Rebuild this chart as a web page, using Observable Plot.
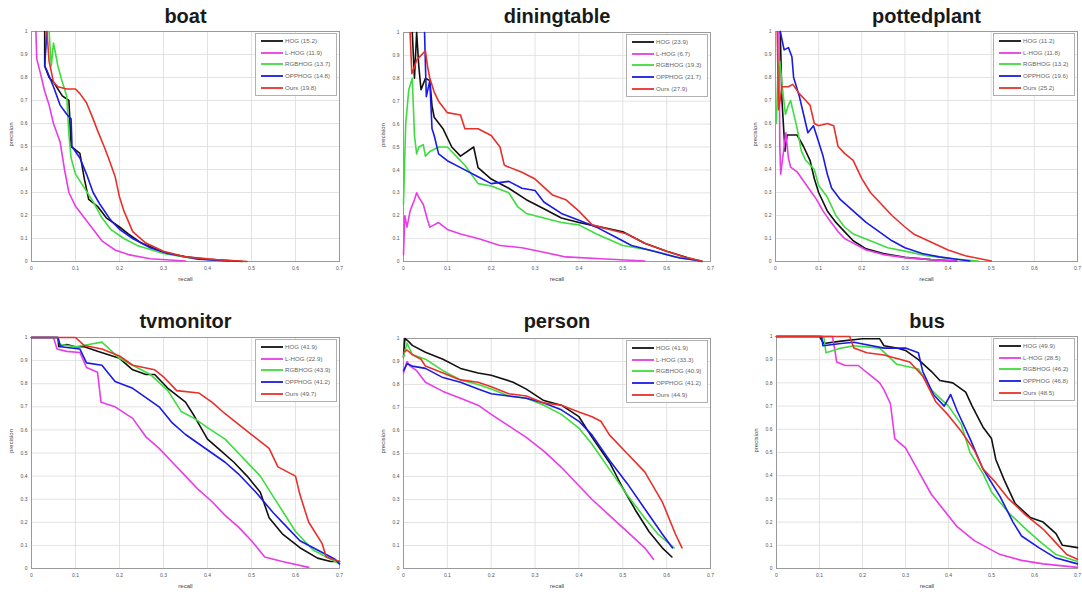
<!DOCTYPE html>
<html><head><meta charset="utf-8">
<script src="https://cdn.jsdelivr.net/npm/d3@7"></script>
<script src="https://cdn.jsdelivr.net/npm/@observablehq/plot@0.6"></script>
<style>
body{margin:0;background:#fff;overflow:hidden;font-family:"Liberation Sans",Arial,sans-serif;}
#root{position:relative;width:1082px;height:592px;overflow:hidden;background:#fff;}
.panel{position:absolute;}
.legend{position:absolute;}
</style>
</head><body><div id="root"></div>
<script>
const methods = ["HOG","L-HOG","RGBHOG","OPPHOG","Ours"];
const colors = ["#111111","#e83ce8","#3edc3e","#1a1ae6","#e8302a"];
const categories = ["boat","diningtable","pottedplant","tvmonitor","person","bus"];
const xTicks = [0,0.1,0.2,0.3,0.4,0.5,0.6,0.7];
const yTicks = [0,0.1,0.2,0.3,0.4,0.5,0.6,0.7,0.8,0.9,1];

const boatAP = [15.2,11.9,13.7,14.8,19.8];
const diningtableAP = [23.9,6.7,19.3,21.7,27.9];
const pottedplantAP = [11.2,11.8,13.2,19.6,25.2];
const tvmonitorAP = [41.9,22.9,43.9,41.2,49.7];
const personAP = [41.9,33.3,40.9,41.2,44.9];
const busAP = [49.9,28.5,46.2,46.8,48.5];

const boat = {
  "HOG":[[0.03,1],[0.03,0.85],[0.04,0.8],[0.05,0.78],[0.07,0.72],[0.085,0.7],[0.09,0.5],[0.11,0.47],[0.12,0.36],[0.13,0.27],[0.15,0.24],[0.17,0.19],[0.2,0.15],[0.22,0.12],[0.25,0.08],[0.3,0.04],[0.35,0.02],[0.4,0.01],[0.48,0.0]],
  "L-HOG":[[0.01,1],[0.012,0.88],[0.02,0.82],[0.03,0.74],[0.04,0.68],[0.05,0.6],[0.065,0.52],[0.075,0.4],[0.085,0.3],[0.1,0.24],[0.12,0.19],[0.14,0.14],[0.16,0.09],[0.19,0.05],[0.22,0.03],[0.27,0.012],[0.35,0.002]],
  "RGBHOG":[[0.04,1],[0.045,0.85],[0.05,0.95],[0.06,0.85],[0.07,0.78],[0.08,0.72],[0.085,0.55],[0.09,0.45],[0.1,0.38],[0.12,0.32],[0.14,0.26],[0.16,0.19],[0.18,0.14],[0.21,0.1],[0.24,0.07],[0.3,0.035],[0.37,0.012],[0.45,0.003]],
  "OPPHOG":[[0.035,1],[0.03,0.85],[0.035,0.83],[0.05,0.76],[0.065,0.68],[0.08,0.64],[0.09,0.62],[0.092,0.5],[0.11,0.45],[0.125,0.38],[0.14,0.3],[0.155,0.25],[0.18,0.18],[0.2,0.14],[0.23,0.1],[0.27,0.06],[0.31,0.035],[0.38,0.01],[0.45,0.002]],
  "Ours":[[0.035,1],[0.04,0.87],[0.05,0.78],[0.06,0.76],[0.08,0.75],[0.1,0.75],[0.11,0.73],[0.125,0.69],[0.14,0.62],[0.15,0.57],[0.165,0.5],[0.175,0.45],[0.19,0.37],[0.2,0.28],[0.21,0.22],[0.23,0.13],[0.26,0.08],[0.3,0.045],[0.35,0.02],[0.42,0.008],[0.49,0]]
};
const diningtable = {
  "HOG":[[0.02,1],[0.025,0.8],[0.03,1],[0.035,0.85],[0.04,0.75],[0.05,0.8],[0.06,0.79],[0.065,0.68],[0.07,0.63],[0.09,0.58],[0.11,0.5],[0.13,0.46],[0.16,0.5],[0.17,0.41],[0.2,0.36],[0.24,0.32],[0.28,0.27],[0.32,0.23],[0.36,0.19],[0.4,0.17],[0.45,0.15],[0.5,0.13],[0.55,0.08],[0.6,0.045],[0.65,0.015],[0.68,0]],
  "L-HOG":[[0,0.03],[0.003,0.2],[0.008,0.15],[0.015,0.22],[0.025,0.27],[0.03,0.3],[0.035,0.28],[0.045,0.25],[0.055,0.18],[0.06,0.15],[0.08,0.17],[0.1,0.14],[0.13,0.12],[0.17,0.1],[0.22,0.07],[0.27,0.06],[0.32,0.04],[0.37,0.02],[0.45,0.012],[0.55,0.002]],
  "RGBHOG":[[0,0.25],[0.005,0.6],[0.012,0.75],[0.02,0.8],[0.025,0.55],[0.03,0.47],[0.035,0.5],[0.045,0.51],[0.05,0.46],[0.06,0.48],[0.08,0.5],[0.1,0.5],[0.12,0.46],[0.14,0.42],[0.17,0.34],[0.2,0.33],[0.24,0.3],[0.26,0.24],[0.28,0.21],[0.32,0.19],[0.36,0.17],[0.4,0.16],[0.44,0.12],[0.5,0.07],[0.56,0.05],[0.62,0.02],[0.68,0.002]],
  "OPPHOG":[[0.048,1],[0.052,0.72],[0.06,0.79],[0.065,0.58],[0.07,0.55],[0.08,0.47],[0.1,0.44],[0.13,0.41],[0.17,0.37],[0.2,0.34],[0.24,0.35],[0.27,0.32],[0.3,0.31],[0.32,0.26],[0.36,0.21],[0.4,0.18],[0.44,0.15],[0.48,0.11],[0.52,0.07],[0.58,0.04],[0.63,0.015],[0.68,0.002]],
  "Ours":[[0.015,1],[0.019,0.82],[0.025,0.85],[0.03,0.88],[0.04,0.9],[0.05,0.92],[0.055,0.85],[0.06,0.8],[0.07,0.74],[0.08,0.7],[0.1,0.65],[0.13,0.64],[0.14,0.58],[0.17,0.58],[0.2,0.55],[0.22,0.5],[0.23,0.42],[0.27,0.39],[0.3,0.36],[0.34,0.29],[0.37,0.27],[0.4,0.22],[0.43,0.16],[0.47,0.14],[0.51,0.12],[0.55,0.08],[0.6,0.045],[0.64,0.02],[0.68,0.002]]
};
const pottedplant = {
  "HOG":[[0.011,1],[0.015,0.7],[0.022,0.48],[0.027,0.55],[0.05,0.55],[0.065,0.5],[0.08,0.44],[0.09,0.36],[0.1,0.3],[0.12,0.22],[0.14,0.17],[0.16,0.13],[0.18,0.09],[0.21,0.055],[0.25,0.035],[0.3,0.018],[0.36,0.008],[0.42,0.002]],
  "L-HOG":[[0.008,1],[0.01,0.5],[0.012,0.38],[0.02,0.5],[0.024,0.56],[0.03,0.45],[0.035,0.41],[0.05,0.39],[0.065,0.35],[0.08,0.31],[0.095,0.27],[0.11,0.22],[0.125,0.18],[0.145,0.13],[0.16,0.1],[0.18,0.08],[0.21,0.05],[0.25,0.03],[0.3,0.017],[0.36,0.008],[0.42,0.002]],
  "RGBHOG":[[0.002,0.6],[0.006,0.85],[0.01,0.87],[0.018,0.72],[0.023,0.64],[0.03,0.68],[0.035,0.7],[0.045,0.62],[0.05,0.58],[0.06,0.48],[0.07,0.44],[0.09,0.4],[0.1,0.33],[0.12,0.28],[0.14,0.2],[0.16,0.15],[0.18,0.12],[0.22,0.09],[0.26,0.06],[0.3,0.045],[0.35,0.025],[0.41,0.012],[0.47,0.002]],
  "OPPHOG":[[0.011,1],[0.02,0.92],[0.03,0.93],[0.038,0.89],[0.042,0.8],[0.055,0.72],[0.065,0.64],[0.075,0.56],[0.088,0.59],[0.1,0.52],[0.11,0.46],[0.12,0.38],[0.13,0.32],[0.15,0.27],[0.18,0.22],[0.21,0.17],[0.24,0.13],[0.27,0.09],[0.3,0.06],[0.34,0.035],[0.38,0.02],[0.42,0.01],[0.45,0.002]],
  "Ours":[[0.004,1],[0.007,0.66],[0.012,0.72],[0.015,0.76],[0.03,0.76],[0.04,0.77],[0.055,0.73],[0.07,0.7],[0.08,0.68],[0.09,0.6],[0.1,0.59],[0.12,0.6],[0.135,0.59],[0.145,0.5],[0.16,0.47],[0.18,0.44],[0.2,0.36],[0.22,0.3],[0.24,0.26],[0.27,0.2],[0.3,0.15],[0.32,0.12],[0.36,0.085],[0.4,0.05],[0.44,0.025],[0.5,0.002]]
};
const tvmonitor = {
  "HOG":[[0,1],[0.06,1],[0.062,0.96],[0.08,0.97],[0.1,0.96],[0.12,0.96],[0.15,0.94],[0.2,0.91],[0.23,0.86],[0.26,0.84],[0.28,0.84],[0.31,0.78],[0.35,0.72],[0.37,0.66],[0.4,0.56],[0.43,0.51],[0.46,0.46],[0.49,0.4],[0.52,0.33],[0.54,0.22],[0.57,0.15],[0.61,0.09],[0.65,0.045],[0.68,0.03],[0.7,0.03]],
  "L-HOG":[[0,1],[0.05,1],[0.058,0.95],[0.08,0.94],[0.11,0.935],[0.125,0.87],[0.15,0.85],[0.158,0.72],[0.19,0.7],[0.23,0.65],[0.26,0.57],[0.29,0.52],[0.32,0.46],[0.35,0.4],[0.38,0.34],[0.41,0.29],[0.44,0.23],[0.47,0.18],[0.5,0.12],[0.53,0.05],[0.57,0.03],[0.63,0.005]],
  "RGBHOG":[[0,1],[0.06,1],[0.065,0.97],[0.1,0.96],[0.13,0.97],[0.16,0.98],[0.2,0.91],[0.23,0.88],[0.27,0.84],[0.31,0.77],[0.34,0.68],[0.37,0.65],[0.4,0.61],[0.44,0.56],[0.47,0.5],[0.5,0.44],[0.52,0.4],[0.56,0.28],[0.6,0.16],[0.64,0.08],[0.68,0.04],[0.7,0.02]],
  "OPPHOG":[[0,1],[0.06,1],[0.066,0.96],[0.11,0.95],[0.125,0.89],[0.16,0.88],[0.19,0.81],[0.23,0.78],[0.26,0.74],[0.29,0.7],[0.32,0.63],[0.35,0.58],[0.38,0.54],[0.41,0.5],[0.44,0.46],[0.47,0.41],[0.51,0.33],[0.55,0.24],[0.58,0.18],[0.61,0.12],[0.65,0.08],[0.69,0.04],[0.7,0.02]],
  "Ours":[[0,1],[0.1,1],[0.12,0.965],[0.16,0.95],[0.2,0.92],[0.23,0.88],[0.28,0.86],[0.3,0.83],[0.33,0.77],[0.38,0.76],[0.41,0.72],[0.44,0.67],[0.46,0.64],[0.5,0.58],[0.54,0.52],[0.56,0.44],[0.6,0.4],[0.61,0.32],[0.63,0.2],[0.66,0.11],[0.67,0.05],[0.7,0.03]]
};
const person = {
  "HOG":[[0,0.92],[0.003,1],[0.01,0.99],[0.02,0.97],[0.05,0.94],[0.09,0.91],[0.13,0.87],[0.17,0.85],[0.2,0.84],[0.25,0.81],[0.28,0.78],[0.32,0.73],[0.36,0.71],[0.4,0.66],[0.43,0.57],[0.47,0.46],[0.5,0.35],[0.53,0.25],[0.56,0.16],[0.59,0.09],[0.612,0.05]],
  "L-HOG":[[0,0.85],[0.008,0.9],[0.015,0.88],[0.03,0.86],[0.05,0.81],[0.09,0.77],[0.13,0.74],[0.17,0.71],[0.2,0.67],[0.24,0.62],[0.28,0.57],[0.32,0.51],[0.36,0.44],[0.4,0.36],[0.43,0.3],[0.47,0.23],[0.51,0.16],[0.55,0.09],[0.57,0.04]],
  "RGBHOG":[[0,0.92],[0.008,0.98],[0.02,0.93],[0.05,0.91],[0.09,0.86],[0.13,0.82],[0.17,0.8],[0.2,0.78],[0.24,0.75],[0.28,0.74],[0.32,0.71],[0.36,0.67],[0.4,0.61],[0.43,0.54],[0.47,0.43],[0.51,0.32],[0.55,0.22],[0.58,0.15],[0.617,0.09]],
  "OPPHOG":[[0,0.86],[0.008,0.89],[0.02,0.88],[0.05,0.87],[0.09,0.83],[0.13,0.81],[0.17,0.78],[0.2,0.76],[0.24,0.75],[0.28,0.74],[0.32,0.72],[0.36,0.69],[0.4,0.64],[0.43,0.58],[0.47,0.47],[0.51,0.37],[0.55,0.26],[0.59,0.15],[0.613,0.09]],
  "Ours":[[0,0.94],[0.008,0.95],[0.02,0.93],[0.04,0.91],[0.05,0.88],[0.09,0.85],[0.13,0.82],[0.17,0.81],[0.2,0.79],[0.24,0.76],[0.28,0.75],[0.32,0.72],[0.36,0.71],[0.4,0.68],[0.43,0.66],[0.45,0.64],[0.47,0.58],[0.51,0.5],[0.55,0.42],[0.59,0.29],[0.62,0.15],[0.635,0.09]]
};
const bus = {
  "HOG":[[0,1],[0.1,1],[0.11,0.97],[0.15,0.98],[0.2,0.99],[0.24,0.99],[0.25,0.96],[0.28,0.95],[0.3,0.94],[0.33,0.9],[0.36,0.85],[0.38,0.81],[0.41,0.8],[0.44,0.76],[0.455,0.7],[0.48,0.61],[0.5,0.56],[0.51,0.47],[0.53,0.38],[0.555,0.28],[0.59,0.22],[0.62,0.2],[0.65,0.15],[0.665,0.1],[0.7,0.09]],
  "L-HOG":[[0,1],[0.13,1],[0.135,0.95],[0.14,0.89],[0.16,0.875],[0.19,0.875],[0.22,0.83],[0.24,0.8],[0.25,0.77],[0.265,0.71],[0.275,0.56],[0.3,0.52],[0.33,0.42],[0.36,0.32],[0.39,0.25],[0.42,0.18],[0.46,0.12],[0.52,0.06],[0.57,0.035],[0.62,0.02],[0.7,0.005]],
  "RGBHOG":[[0,1],[0.11,1],[0.115,0.93],[0.15,0.95],[0.18,0.96],[0.24,0.95],[0.28,0.88],[0.33,0.86],[0.36,0.77],[0.4,0.7],[0.43,0.62],[0.45,0.5],[0.48,0.41],[0.5,0.33],[0.54,0.24],[0.58,0.17],[0.61,0.12],[0.65,0.06],[0.7,0.03]],
  "OPPHOG":[[0,1],[0.105,1],[0.108,0.96],[0.15,0.97],[0.18,0.975],[0.25,0.95],[0.3,0.95],[0.33,0.93],[0.34,0.85],[0.365,0.75],[0.39,0.7],[0.405,0.75],[0.42,0.68],[0.45,0.56],[0.48,0.43],[0.52,0.31],[0.55,0.2],[0.57,0.14],[0.61,0.09],[0.65,0.045],[0.7,0.02]],
  "Ours":[[0,1],[0.17,1],[0.18,0.95],[0.21,0.93],[0.25,0.92],[0.31,0.89],[0.34,0.83],[0.37,0.72],[0.4,0.66],[0.43,0.59],[0.46,0.51],[0.48,0.43],[0.51,0.37],[0.54,0.3],[0.58,0.23],[0.62,0.17],[0.645,0.12],[0.675,0.06],[0.7,0.04]]
};

const curvesByCat = {boat, diningtable, pottedplant, tvmonitor, person, bus};
const apByCat = {boat:boatAP, diningtable:diningtableAP, pottedplant:pottedplantAP, tvmonitor:tvmonitorAP, person:personAP, bus:busAP};

// layout: svg left/top, plot margins, plot width
const layout = [
  {left:0,   top:0,   ml:31, mt:31, mb:29, pw:308},
  {left:360, top:0,   ml:43, mt:32, mb:29, pw:307},
  {left:720, top:0,   ml:55, mt:31, mb:29, pw:302},
  {left:0,   top:295, ml:31, mt:42, mb:24, pw:308},
  {left:360, top:295, ml:43, mt:43, mb:24, pw:307},
  {left:720, top:295, ml:56, mt:41, mb:24, pw:301}
];

const fmt = d3.format("~g");
const root = document.getElementById("root");
const NS = "http://www.w3.org/2000/svg";

categories.forEach((cat, k) => {
  const L = layout[k];
  const row = k < 3 ? 0 : 1;
  const ph = row === 0 ? (261 - L.mt) : (568 - 295 - L.mt);
  const mr = 14;
  const W = L.ml + L.pw + mr, H = L.mt + ph + L.mb;
  const curves = curvesByCat[cat];
  const lineMarks = methods.map((m, i) => Plot.line(curves[m], {x: d => d[0], y: d => d[1], stroke: colors[i], strokeWidth: 1.6}));
  const svg = Plot.plot({
    width: W, height: H,
    marginLeft: L.ml, marginRight: mr, marginTop: L.mt, marginBottom: L.mb,
    style: {fontSize: "5px", fontFamily: "'Liberation Sans', Arial, sans-serif", color: "#555", background: "transparent", overflow: "visible"},
    x: {domain: [0, 0.7], ticks: xTicks, tickFormat: fmt, tickSize: 0, tickPadding: 5, label: null},
    y: {domain: [0, 1], ticks: yTicks, tickFormat: fmt, tickSize: 0, tickPadding: 4, label: null},
    marks: [
      Plot.ruleX(xTicks, {stroke: "#dcdcdc", strokeWidth: 0.8}),
      Plot.ruleY(yTicks, {stroke: "#dcdcdc", strokeWidth: 0.8}),
      Plot.frame({stroke: "#9a9a9a", strokeWidth: 1}),
      ...lineMarks,
      Plot.text([cat], {frameAnchor: "top", lineAnchor: "bottom", dy: -(row === 0 ? L.mt - 22 : L.mt - 32), fontSize: 20, fontWeight: "bold", fill: "#1a1a1a"}),
      Plot.text(["recall"], {frameAnchor: "bottom", dy: 19, fontSize: 6, fill: "#444"}),
      Plot.text(["precision"], {frameAnchor: "left", dx: -20, rotate: -90, fontSize: 6, fill: "#444"})
    ]
  });
  svg.classList.add("panel");
  svg.style.left = L.left + "px";
  svg.style.top = L.top + "px";
  root.appendChild(svg);

  // legend box (top-right inside the plot frame)
  const lw = 82, lh = 63;
  const lg = document.createElementNS(NS, "svg");
  lg.setAttribute("class", "legend");
  lg.setAttribute("width", lw);
  lg.setAttribute("height", lh);
  lg.style.left = (L.left + L.ml + L.pw - 2 - lw) + "px";
  lg.style.top = (L.top + L.mt + 2) + "px";
  const box = document.createElementNS(NS, "rect");
  box.setAttribute("x", 0.5); box.setAttribute("y", 0.5);
  box.setAttribute("width", lw - 1); box.setAttribute("height", lh - 1);
  box.setAttribute("fill", "#fff"); box.setAttribute("stroke", "#b0b0b0");
  lg.appendChild(box);
  methods.forEach((m, i) => {
    const yy = 8 + Math.round(i * 11.7);
    const ln = document.createElementNS(NS, "line");
    ln.setAttribute("x1", 6); ln.setAttribute("x2", 28);
    ln.setAttribute("y1", yy); ln.setAttribute("y2", yy);
    ln.setAttribute("stroke", colors[i]); ln.setAttribute("stroke-width", 1.8);
    lg.appendChild(ln);
    const t = document.createElementNS(NS, "text");
    t.setAttribute("x", 30); t.setAttribute("y", yy);
    t.setAttribute("dy", "0.35em");
    t.setAttribute("font-size", "6.2");
    t.setAttribute("font-family", "'Liberation Sans', Arial, sans-serif");
    t.setAttribute("fill", "#666");
    t.textContent = `${m} (${apByCat[cat][i].toFixed(1)})`;
    lg.appendChild(t);
  });
  root.appendChild(lg);
});
</script>
</body></html>
